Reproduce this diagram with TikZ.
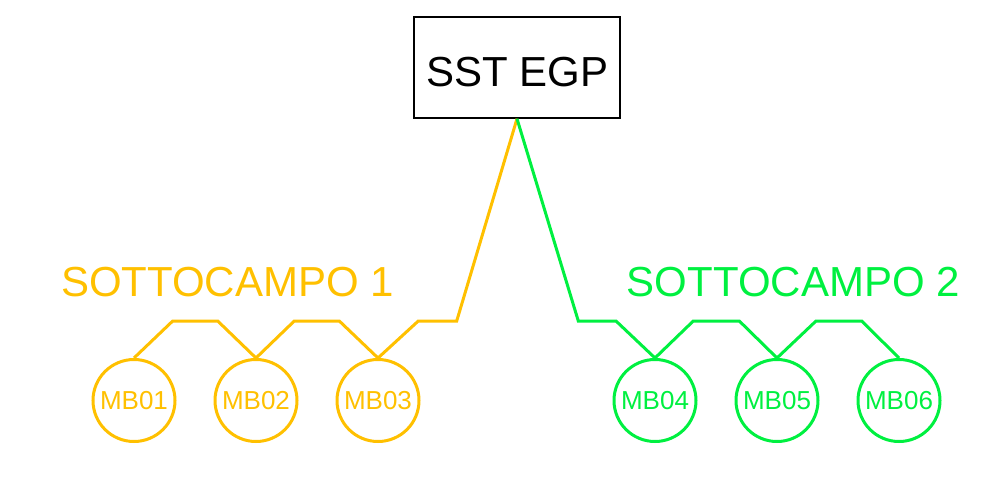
\documentclass[tikz,border=0pt]{standalone}
\usepackage{fontspec}
\setmainfont{Liberation Sans}
\definecolor{orng}{HTML}{FFC000}
\definecolor{grn}{HTML}{00F040}
\begin{document}
\begin{tikzpicture}[x=1pt,y=-1pt,
  mb/.style={circle,draw,line width=3pt,minimum size=82pt,inner sep=0pt,font=\fontsize{26}{26}\selectfont},
  wire/.style={line width=3pt,line join=miter},
  lbl/.style={font=\fontsize{42}{42}\selectfont,inner sep=0pt}]
\useasboundingbox (0,0) rectangle (988,480);
\node[draw,line width=1.5pt,minimum width=206pt,minimum height=101pt,inner sep=0pt] (sst) at (517,67.5) {};
\node[lbl,anchor=base] (ssttext) at (517.5,86) {SST EGP};
\node[lbl,text=orng,anchor=base] (s1) at (227.5,296) {SOTTOCAMPO 1};
\node[lbl,text=grn,anchor=base] (s2) at (793.3,296) {SOTTOCAMPO 2};
\node[mb,draw=orng,text=orng] (m1) at (134,400.5) {MB01};
\node[mb,draw=orng,text=orng] (m2) at (256,400.5) {MB02};
\node[mb,draw=orng,text=orng] (m3) at (378,400.5) {MB03};
\node[mb,draw=grn,text=grn] (m4) at (655,400.5) {MB04};
\node[mb,draw=grn,text=grn] (m5) at (777,400.5) {MB05};
\node[mb,draw=grn,text=grn] (m6) at (899,400.5) {MB06};
\coordinate (top) at (sst.south);
\draw[wire,orng] (m1.north) -- (172.7,321) -- (217.7,321) -- (m2.north) -- (294.3,321) -- (339.3,321) -- (m3.north) -- (418.3,321) -- (456.7,321) -- (top);
\draw[wire,grn] (top) -- (578.3,321) -- (616,321) -- (m4.north) -- (693.3,321) -- (739.3,321) -- (m5.north) -- (816,321) -- (861.7,321) -- (m6.north);
\end{tikzpicture}
\end{document}
